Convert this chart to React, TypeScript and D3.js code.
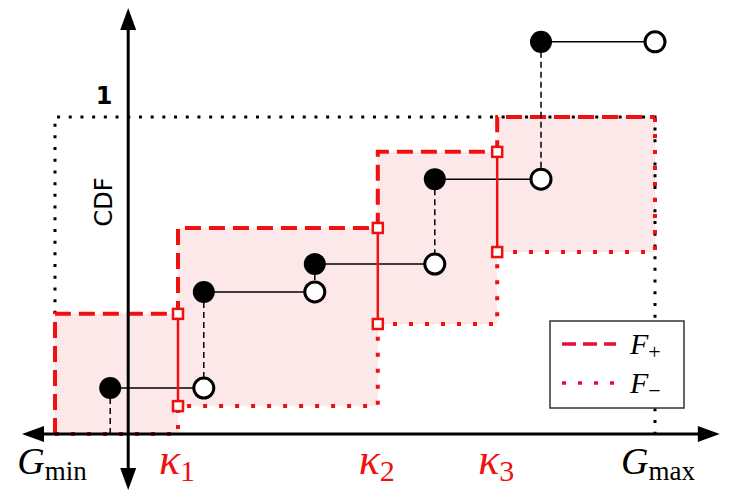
import React, { useEffect, useRef } from 'react'
import * as d3 from 'd3'

// empirical CDF jumps (G value, CDF level)
const jumpX = [0.92, 2.48, 4.33, 6.33, 8.1]
const jumpY = [0.145, 0.448, 0.536, 0.804, 1.237]
const gMin = 0
const gMax = 10
const originX = 1.22

// kappa break points and the two bounding step functions
const kappas = [2.05, 5.38, 7.37]
const kappaLabels = ['1', '2', '3']
const fPlus = [0.379, 0.65, 0.89, 1]
const fMinus = [0, 0.088, 0.347, 0.574]

const W = 739
const H = 500

export default function App() {
  const ref = useRef<SVGSVGElement>(null)

  useEffect(() => {
    const svg = d3.select(ref.current)
    svg.selectAll('*').remove()

    const x = d3.scaleLinear().domain([gMin, gMax]).range([55, 655])
    const y = d3.scaleLinear().domain([0, 1]).range([434, 117])
    const edges = [gMin, ...kappas, gMax]

    // pink bands between F- and F+
    svg.append('g').selectAll('rect')
      .data(fPlus).enter().append('rect')
      .attr('x', (d, i) => x(edges[i]))
      .attr('width', (d, i) => x(edges[i + 1]) - x(edges[i]))
      .attr('y', d => y(d))
      .attr('height', (d, i) => y(fMinus[i]) - y(d))
      .attr('fill', '#fde8e9')

    // black dotted "1" box
    svg.append('path')
      .attr('d', `M${x(gMin)},${y(fPlus[0])} V${y(1)} H${x(gMax)} V${y(0)}`)
      .attr('fill', 'none')
      .attr('stroke', 'black')
      .attr('stroke-width', 3)
      .attr('stroke-dasharray', '3,8.7')

    const stepPath = (vals: number[]) => {
      let p = `M${x(gMin)},${y(0)}`
      vals.forEach((v, i) => {
        p += ` V${y(v)} H${x(edges[i + 1])}`
      })
      return p
    }

    // F- dotted
    svg.append('path')
      .attr('d', stepPath(fMinus) + ` V${y(1)}`)
      .attr('fill', 'none')
      .attr('stroke', '#f01010')
      .attr('stroke-width', 4)
      .attr('stroke-dasharray', '4,12')

    // F+ dashed
    svg.append('path')
      .attr('d', stepPath(fPlus))
      .attr('fill', 'none')
      .attr('stroke', '#f01010')
      .attr('stroke-width', 4)
      .attr('stroke-dasharray', '16,8')

    // axes
    const ax = svg.append('g')
    ax.append('line')
      .attr('x1', x(-0.3)).attr('x2', x(10.8))
      .attr('y1', y(0)).attr('y2', y(0))
      .attr('stroke', 'black').attr('stroke-width', 3)
    ax.append('line')
      .attr('x1', x(originX)).attr('x2', x(originX))
      .attr('y1', 30).attr('y2', 470)
      .attr('stroke', 'black').attr('stroke-width', 3)
    const arrows = [
      [x(-0.55), y(0), 0],
      [x(11.08), y(0), 180],
      [x(originX), 8, 90],
      [x(originX), 490, -90]
    ]
    ax.selectAll('path.arrow')
      .data(arrows).enter().append('path')
      .attr('d', 'M0,0 L22,-8 L22,8 Z')
      .attr('transform', d => `translate(${d[0]},${d[1]}) rotate(${d[2]})`)
      .attr('fill', 'black')

    // dashed vertical jumps of the ECDF
    svg.append('g').selectAll('line')
      .data(jumpX).enter().append('line')
      .attr('x1', d => x(d)).attr('x2', d => x(d))
      .attr('y1', (d, i) => y(jumpY[i]))
      .attr('y2', (d, i) => y(i === 0 ? 0 : jumpY[i - 1]))
      .attr('stroke', 'black')
      .attr('stroke-width', 1.5)
      .attr('stroke-dasharray', '6,4')

    // horizontal steps
    svg.append('g').selectAll('line')
      .data(jumpX).enter().append('line')
      .attr('x1', d => x(d))
      .attr('x2', (d, i) => x(i < jumpX.length - 1 ? jumpX[i + 1] : gMax))
      .attr('y1', (d, i) => y(jumpY[i])).attr('y2', (d, i) => y(jumpY[i]))
      .attr('stroke', 'black')
      .attr('stroke-width', 1.5)

    // kappa intervals
    const kg = svg.append('g')
    kg.selectAll('line')
      .data(kappas).enter().append('line')
      .attr('x1', d => x(d)).attr('x2', d => x(d))
      .attr('y1', (d, i) => y(fPlus[i])).attr('y2', (d, i) => y(fMinus[i + 1]))
      .attr('stroke', '#f01010')
      .attr('stroke-width', 2.5)
    const squares: [number, number][] = []
    kappas.forEach((k, i) => {
      squares.push([k, fPlus[i]])
      squares.push([k, fMinus[i + 1]])
    })
    kg.selectAll('rect')
      .data(squares).enter().append('rect')
      .attr('x', d => x(d[0]) - 5).attr('y', d => y(d[1]) - 5)
      .attr('width', 10).attr('height', 10)
      .attr('fill', 'white')
      .attr('stroke', '#f01010')
      .attr('stroke-width', 2.5)

    // points
    svg.append('g').selectAll('circle')
      .data(jumpX).enter().append('circle')
      .attr('cx', (d, i) => x(i < jumpX.length - 1 ? jumpX[i + 1] : gMax))
      .attr('cy', (d, i) => y(jumpY[i]))
      .attr('r', 10)
      .attr('fill', 'white')
      .attr('stroke', 'black')
      .attr('stroke-width', 3)
    svg.append('g').selectAll('circle')
      .data(jumpX).enter().append('circle')
      .attr('cx', d => x(d))
      .attr('cy', (d, i) => y(jumpY[i]))
      .attr('r', 11)
      .attr('fill', 'black')

    // labels
    svg.append('text')
      .attr('x', 104).attr('y', 104)
      .attr('text-anchor', 'middle')
      .attr('font-family', 'DejaVu Sans')
      .attr('font-weight', 'bold')
      .attr('font-size', 24)
      .text('1')
    svg.append('text')
      .attr('transform', `translate(112, 202) rotate(-90)`)
      .attr('text-anchor', 'middle')
      .attr('font-family', 'DejaVu Sans')
      .attr('font-size', 24)
      .text('CDF')

    const serif = 'Liberation Serif'
    const gLab = (xp: number, sub: string) => {
      const t = svg.append('text')
        .attr('x', xp).attr('y', 474)
        .attr('text-anchor', 'middle')
        .attr('font-family', serif)
        .attr('font-size', 38)
      t.append('tspan').attr('font-style', 'italic').text('G')
      t.append('tspan').attr('font-size', 27).attr('dy', 6).text(sub)
    }
    gLab(x(gMin) - 3, 'min')
    gLab(x(gMax) + 3, 'max')

    kappas.forEach((k, i) => {
      const t = svg.append('text')
        .attr('x', x(k) - 1).attr('y', 474)
        .attr('text-anchor', 'middle')
        .attr('font-family', serif)
        .attr('font-size', 44)
        .attr('fill', '#f01010')
      t.append('tspan').attr('font-style', 'italic').text('κ')
      t.append('tspan').attr('font-size', 30).attr('dy', 7).text(kappaLabels[i])
    })

    // legend
    const lg = svg.append('g').attr('transform', 'translate(550,321)')
    lg.append('rect')
      .attr('width', 134).attr('height', 87)
      .attr('fill', 'white')
      .attr('stroke', '#333')
      .attr('stroke-width', 1.5)
    const legItems = [
      { dash: '14,7', sub: '+' },
      { dash: '4,12', sub: '−' }
    ]
    legItems.forEach((it, i) => {
      lg.append('line')
        .attr('x1', 12).attr('x2', 66)
        .attr('y1', 23 + i * 39).attr('y2', 23 + i * 39)
        .attr('stroke', '#e0103a')
        .attr('stroke-width', 3.5)
        .attr('stroke-dasharray', it.dash)
      const t = lg.append('text')
        .attr('x', 80).attr('y', 33 + i * 39)
        .attr('font-family', serif)
        .attr('font-size', 30)
      t.append('tspan').attr('font-style', 'italic').text('F')
      t.append('tspan').attr('font-size', 22).attr('dy', 5).text(it.sub)
    })
  }, [])

  return (
    <svg ref={ref} width={W} height={H}
      style={{ position: 'absolute', left: 0, top: 0, background: 'white' }} />
  )
}
